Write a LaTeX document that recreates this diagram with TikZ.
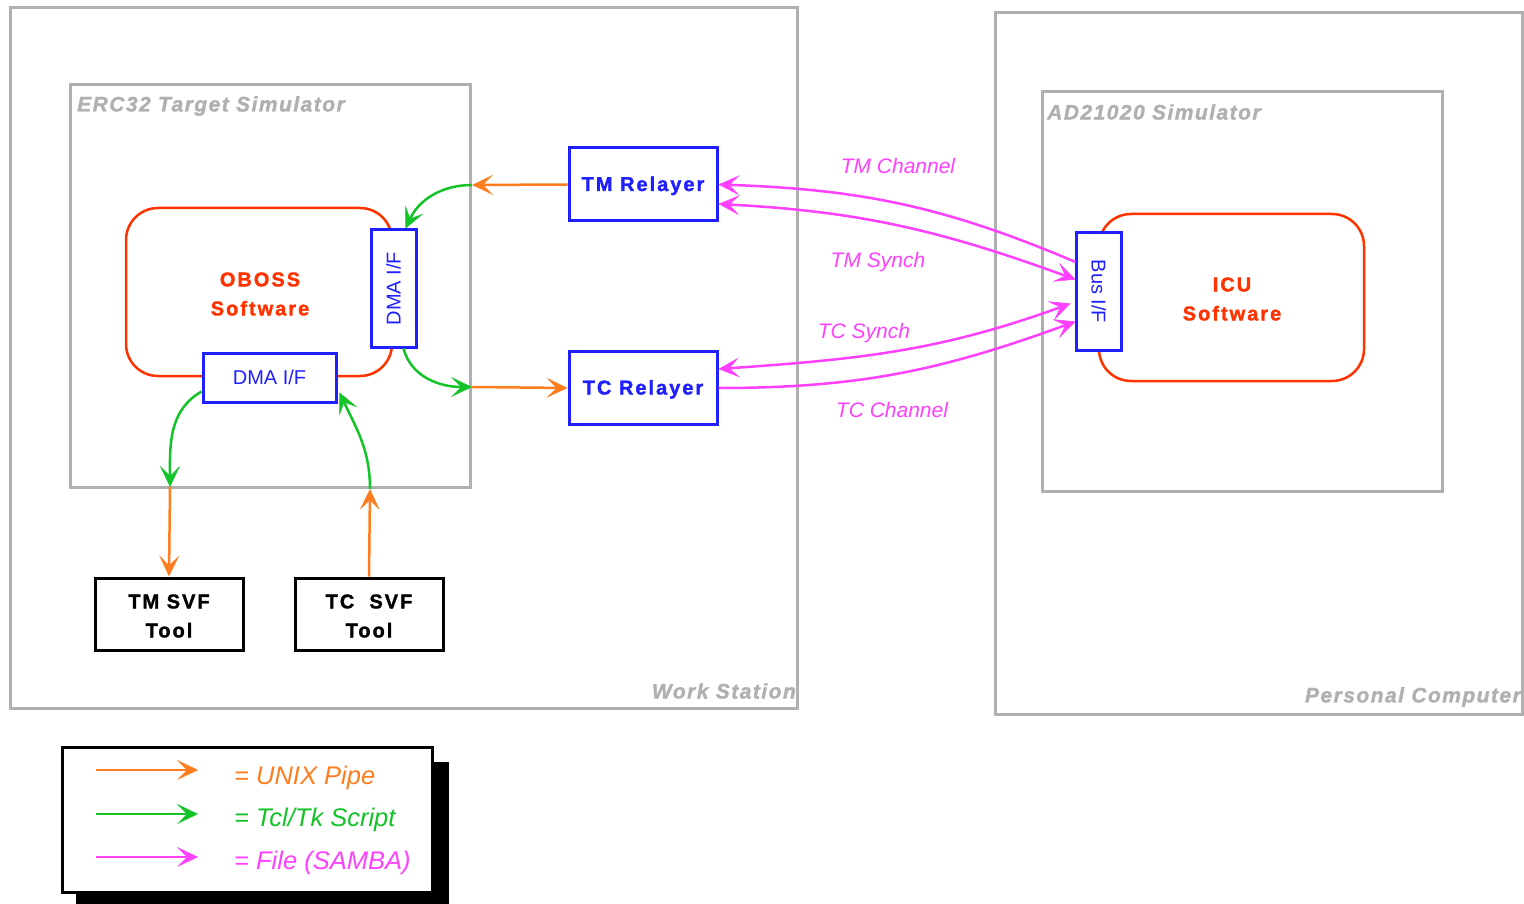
\documentclass[tikz,border=0pt]{standalone}
\usepackage{fontspec}
\setmainfont{Liberation Sans}
\newfontfamily\widefont[LetterSpace=10,BoldFeatures={FakeBold=1.5}]{Liberation Sans}
\newfontfamily\labelfont[LetterSpace=7,BoldItalicFeatures={FakeBold=1.5}]{Liberation Sans}
\usetikzlibrary{arrows.meta,calc}

\definecolor{framegray}{RGB}{176,176,176}
\definecolor{pipeorange}{RGB}{255,125,30}
\definecolor{scriptgreen}{RGB}{20,195,40}
\definecolor{sambamagenta}{RGB}{255,64,255}
\definecolor{ifblue}{RGB}{32,32,255}
\definecolor{softred}{RGB}{255,51,0}

\tikzset{
  head/.tip={Stealth[length=21pt,width=20pt,inset=10pt,line width=0.6pt]},
  frame/.style={draw=framegray, line width=3pt, inner sep=0},
  framelabel/.style={text=framegray, inner sep=0,
    font=\labelfont\fontsize{21}{24}\selectfont\bfseries\itshape},
  softbox/.style={draw=softred, line width=2.5pt, rounded corners=32pt},
  softtext/.style={text=softred, align=center, inner sep=0,
    font=\widefont\fontsize{20}{29}\selectfont\bfseries},
  ifbox/.style={draw=ifblue, fill=white, line width=3pt, inner sep=0,
    text=ifblue, font=\fontsize{20}{24}\selectfont,
    text height=14pt, text depth=0pt},
  relay/.style={draw=ifblue, fill=white, line width=3pt, inner sep=0,
    minimum width=148pt, minimum height=73pt, text=ifblue,
    text height=13pt, text depth=0pt,
    font=\widefont\fontsize{20}{24}\selectfont\bfseries},
  tool/.style={draw=black, line width=3pt, inner sep=0,
    minimum width=148pt, minimum height=72pt},
  tooltext/.style={align=center, inner sep=0,
    font=\widefont\fontsize{20}{29}\selectfont\bfseries},
  pipe/.style={draw=pipeorange, line width=2.5pt, -head},
  script/.style={draw=scriptgreen, line width=2.5pt, -head},
  samba/.style={draw=sambamagenta, line width=2.5pt},
  chanlabel/.style={text=sambamagenta, inner sep=0,
    font=\fontsize{21}{25}\selectfont\itshape},
  legendtext/.style={anchor=west, inner sep=0,
    font=\fontsize{25.5}{30}\selectfont\itshape},
}

\begin{document}
\begin{tikzpicture}[x=1pt,y=-1pt]
\useasboundingbox (0,0) rectangle (1524,904);

% machines and simulators
\node[frame, minimum width=787pt, minimum height=700pt] (ws) at (403.5,358) {};
\node[frame, minimum width=527pt, minimum height=701pt] (pc) at (1258.5,363.5) {};
\node[frame, minimum width=400pt, minimum height=402pt] (erc) at (270,286) {};
\node[frame, minimum width=400pt, minimum height=399pt] (ad) at (1242,291.5) {};

\node[framelabel, anchor=west] (ercl) at (77,106) {ERC32 Target Simulator};
\node[framelabel, anchor=west] (adl) at (1047,112) {AD21020 Simulator};
\node[framelabel, anchor=east] (wsl) at (796,691) {Work Station};
\node[framelabel, anchor=east] (pcl) at (1521,697) {Personal Computer};

% software blocks with their interfaces
\node[softbox, minimum width=266pt, minimum height=168pt] (oboss) at (259,292) {};
\node[softtext] (obosst) at (260,294) {OBOSS\\Software};
\node[ifbox, minimum width=117pt, minimum height=45pt, rotate=90] (dmav) at (393.5,288.5) {DMA I/F};
\node[ifbox, minimum width=133pt, minimum height=49pt] (dmah) at (269.5,377.5) {DMA I/F};

\node[softbox, minimum width=265pt, minimum height=167pt] (icu) at (1231.5,297.5) {};
\node[softtext] (icut) at (1232,299) {ICU\\Software};
\node[ifbox, minimum width=117pt, minimum height=45pt, rotate=-90] (bus) at (1098.5,291.5) {Bus I/F};

% relayers and tools
\node[relay] (tmr) at (643,184.5) {TM Relayer};
\node[relay] (tcr) at (643,388) {TC Relayer};
\node[tool] (tms) at (169,614) {};
\node[tooltext] (tmst) at (169,616) {TM SVF\\Tool};
\node[tool] (tcs) at (369,614) {};
\node[tooltext] (tcst) at (369,616) {TC\ \ SVF\\Tool};

% crossing points on the simulator border
\coordinate (j1) at (472,185);
\coordinate (j2) at (472,387);
\coordinate (j3) at (170,487);
\coordinate (j4) at (370,489);

% UNIX pipes
\draw[pipe] (tmr.west) -- (j1);
\draw[pipe] (j2) -- (tcr.west);
\draw[pipe] (j3) -- (tms.north);
\draw[pipe] (tcs.north) -- (j4);

% Tcl/Tk scripts
\draw[script] (j1) to[out=180,in=65] ($(dmav.center)+(12,-60)$);
\draw[script] ($(dmav.center)+(10,60)$) to[out=-75,in=180] (j2);
\draw[script] ($(dmah.center)+(-68,14)$) to[out=210,in=90] (j3);
\draw[script] (j4) to[out=90,in=-65] ($(dmah.center)+(70,15)$);

% SAMBA files
\draw[samba, -head] ($(bus.center)+(-23,-29.5)$) to[out=157,in=-2] (tmr.east);
\draw[samba, head-head] ($(tmr.east)+(0,19.5)$) to[out=-3,in=160] ($(bus.center)+(-23,-12)$);
\draw[samba, head-head] ($(tcr.east)+(0,-19)$) to[out=4,in=-160] ($(bus.center)+(-28,12)$);
\draw[samba, -head] (tcr.east) to[out=0,in=-160] ($(bus.center)+(-23,30)$);

\node[chanlabel] (tmch) at (898,166) {TM Channel};
\node[chanlabel] (tmsy) at (878,262) {TM Synch};
\node[chanlabel] (tcsy) at (864,333) {TC Synch};
\node[chanlabel] (tcch) at (892,410) {TC Channel};

% legend
\node[fill=black, minimum width=373pt, minimum height=142pt, inner sep=0] (shadow) at (262.5,833) {};
\node[draw=black, fill=white, line width=3pt, minimum width=370pt, minimum height=145pt, inner sep=0] (legend) at (247,819.5) {};
\coordinate (l1a) at (96,770);  \coordinate (l1b) at (198,770);
\coordinate (l2a) at (96,814);  \coordinate (l2b) at (198,814);
\coordinate (l3a) at (96,857);  \coordinate (l3b) at (198,857);
\draw[pipe] (l1a) -- (l1b);
\draw[script] (l2a) -- (l2b);
\draw[samba, -head] (l3a) -- (l3b);
\node[legendtext, text=pipeorange] (t1) at (234,778) {= UNIX Pipe};
\node[legendtext, text=scriptgreen] (t2) at (234,820) {= Tcl/Tk Script};
\node[legendtext, text=sambamagenta] (t3) at (234,863) {= File (SAMBA)};
\end{tikzpicture}
\end{document}
